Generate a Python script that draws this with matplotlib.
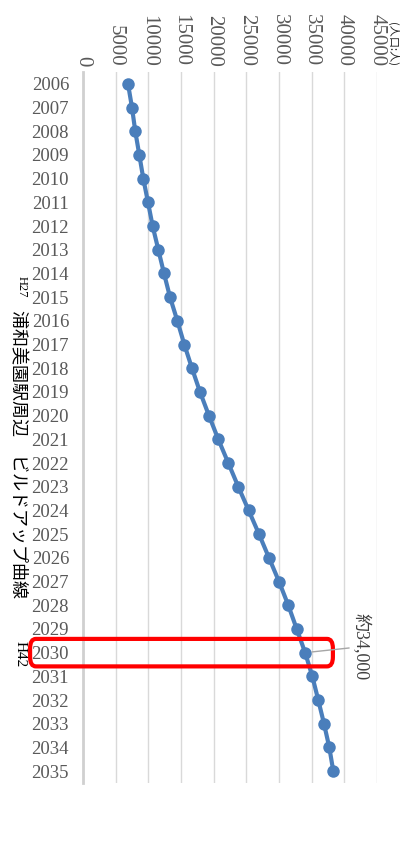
import matplotlib.pyplot as plt
from matplotlib.patches import FancyBboxPatch
import matplotlib.transforms as mtransforms

years = list(range(2006, 2036))
population = [6890, 7500, 8000, 8620, 9230, 9950, 10660, 11530, 12400, 13320,
              14440, 15510, 16680, 17910, 19280, 20710, 22240, 23770, 25360, 26940,
              28470, 30000, 31420, 32710, 34000, 35100, 36010, 36890, 37700, 38310]
value_ticks = [0, 5000, 10000, 15000, 20000, 25000, 30000, 35000, 40000, 45000]

fig = plt.figure(figsize=(4.01, 8.43), dpi=100)
ax = fig.add_axes([83 / 401, 60 / 843, 294 / 401, 711 / 843])

ax.plot(population, years, color='#4a7ebb', lw=3, marker='o', ms=9,
        markeredgewidth=0, zorder=3)

ax.set_xlim(0, 45000)
ax.set_ylim(2035.5, 2005.5)
ax.set_xticks(value_ticks)
ax.set_yticks(years)
ax.xaxis.tick_top()
ax.tick_params(axis='x', length=0, pad=4, labelcolor='#595959')
ax.tick_params(axis='y', length=0, pad=10, labelcolor='#595959')
ax.set_xticklabels([str(v) for v in value_ticks], rotation=-90,
                   fontfamily='Liberation Serif', fontsize=15)
ax.set_yticklabels([str(y) for y in years], fontfamily='Liberation Serif', fontsize=13.5)
ax.grid(axis='x', color='#d9d9d9', lw=1)
ax.set_axisbelow(True)
for s in ['top', 'right', 'bottom']:
    ax.spines[s].set_visible(False)
ax.spines['left'].set_color('#d0d0d0')
ax.spines['left'].set_linewidth(2)

# unit label
fig.text(393 / 401, 1 - 44 / 843, '(人口:人)', rotation=-90, ha='center', va='center',
         fontsize=8, family=['Noto Sans CJK JP', 'DejaVu Sans'], color='#222222')

# title (rotated)
fig.text(18 / 401, 1 - 454 / 843, '浦和美園駅周辺　ビルドアップ曲線', rotation=-90,
         ha='center', va='center', fontsize=13, family=['Noto Sans CJK JP', 'DejaVu Sans'])
fig.text(22 / 401, 1 - 287 / 843, 'H27', rotation=-90, ha='center', va='center',
         fontsize=9, family='Liberation Serif')
fig.text(20 / 401, 1 - 654 / 843, 'H42', rotation=-90, ha='center', va='center',
         fontsize=11, family='Liberation Serif')

# highlight box around 2030
trans = mtransforms.blended_transform_factory(ax.transAxes, ax.transData)
box = FancyBboxPatch((-0.18, 2029.42), 1.03, 1.16, boxstyle='round,pad=0,rounding_size=0.02',
                     transform=trans, fill=False, ec='#ff0000', lw=3, clip_on=False, zorder=5,
                     mutation_aspect=20)
ax.add_patch(box)

# annotation
i2030 = years.index(2030)
ax.annotate('約34,000', xy=(population[i2030], years[i2030]), xytext=(42550, 2029.75),
            rotation=-90, ha='center', va='center', fontsize=13, color='#404040',
            family=['Liberation Serif', 'Noto Sans CJK JP'],
            arrowprops=dict(arrowstyle='-', color='#a6a6a6', lw=1, shrinkA=0, shrinkB=5),
            annotation_clip=False, zorder=6)

fig.savefig('out.png', dpi=100, facecolor='white')
